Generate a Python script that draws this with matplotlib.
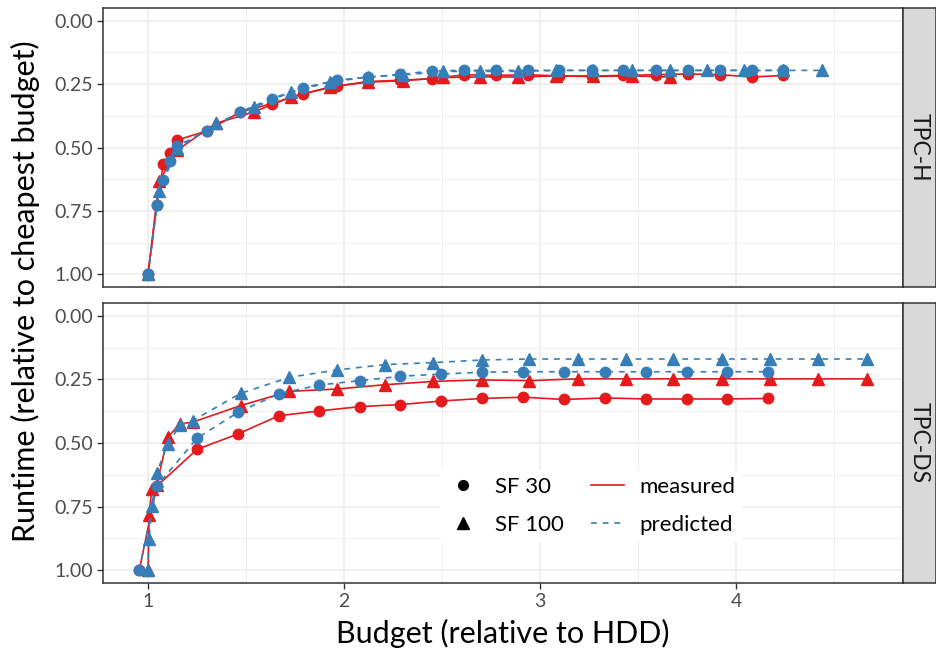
import matplotlib
matplotlib.use("Agg")
import matplotlib.pyplot as plt
from matplotlib.lines import Line2D

# ---------------- data ----------------
h30_x = [1.00, 1.044, 1.078, 1.112, 1.146, 1.303, 1.469, 1.631, 1.792, 1.963, 2.121, 2.286,
         2.447, 2.614, 2.776, 2.940, 3.099, 3.263, 3.425, 3.592, 3.753, 3.918, 4.080, 4.241]
h30_meas = [1.00, 0.725, 0.566, 0.520, 0.471, 0.434, 0.360, 0.327, 0.288, 0.258, 0.240, 0.235,
            0.229, 0.213, 0.216, 0.213, 0.218, 0.218, 0.216, 0.213, 0.210, 0.213, 0.222, 0.216]
h30_pred = [1.00, 0.725, 0.627, 0.552, 0.495, 0.434, 0.360, 0.307, 0.264, 0.235, 0.222, 0.212,
            0.198, 0.196, 0.196, 0.196, 0.196, 0.196, 0.196, 0.196, 0.196, 0.196, 0.196, 0.196]

h100_x = [1.00, 1.056, 1.150, 1.345, 1.539, 1.731, 1.927, 2.122, 2.300, 2.505, 2.694, 2.889,
          3.080, 3.272, 3.468, 3.663, 3.850, 4.043, 4.241, 4.437]
h100_meas = [1.00, 0.634, 0.510, 0.405, 0.360, 0.300, 0.262, 0.242, 0.237, 0.224, 0.222, 0.222,
             0.218, 0.220, 0.218, 0.222]
h100_pred = [1.00, 0.673, 0.503, 0.405, 0.342, 0.281, 0.242, 0.222, 0.214, 0.200, 0.200, 0.200,
             0.196, 0.196, 0.196, 0.196, 0.196, 0.196, 0.196, 0.196]

d30_x = [0.955, 1.044, 1.250, 1.460, 1.667, 1.874, 2.082, 2.287, 2.495, 2.704, 2.915, 3.124,
         3.332, 3.540, 3.748, 3.955, 4.163]
d30_meas = [1.00, 0.670, 0.525, 0.464, 0.393, 0.374, 0.357, 0.349, 0.335, 0.325, 0.320, 0.329,
            0.323, 0.327, 0.327, 0.327, 0.325]
d30_pred = [1.00, 0.670, 0.481, 0.379, 0.307, 0.272, 0.255, 0.238, 0.229, 0.222, 0.220, 0.220,
            0.220, 0.220, 0.220, 0.220, 0.220]

d100_x = [1.000, 1.005, 1.019, 1.044, 1.100, 1.163, 1.228, 1.472, 1.721, 1.963, 2.209, 2.456,
          2.702, 2.945, 3.192, 3.437, 3.680, 3.930, 4.173, 4.420, 4.666]
d100_meas = [1.00, 0.784, 0.680, 0.665, 0.477, 0.425, 0.418, 0.353, 0.297, 0.288, 0.271, 0.258,
             0.252, 0.255, 0.248, 0.248, 0.248, 0.248, 0.248, 0.248, 0.248]
d100_pred = [1.00, 0.876, 0.749, 0.618, 0.503, 0.431, 0.412, 0.305, 0.242, 0.213, 0.192, 0.184,
             0.174, 0.170, 0.170, 0.170, 0.170, 0.170, 0.170, 0.170, 0.170]

panels = ["TPC-H", "TPC-DS"]
x_ticks = [1, 2, 3, 4]
y_ticks = [0.00, 0.25, 0.50, 0.75, 1.00]
y_ticklabels = ["0.00", "0.25", "0.50", "0.75", "1.00"]
sf_labels = ["SF 30", "SF 100"]
type_labels = ["measured", "predicted"]

RED = "#E41A1C"
BLUE = "#377EB8"

plt.rcParams['font.family'] = ['Lato', 'DejaVu Sans']

W, H = 936, 653
fig = plt.figure(figsize=(W / 100, H / 100), dpi=100)

def fx(px):
    return px / W

def fy(py_top, py_bot):
    return (H - py_bot) / H, (py_bot - py_top) / H

data = {
    "TPC-H": [(h30_x, h30_meas, h30_pred), (h100_x, h100_meas, h100_pred)],
    "TPC-DS": [(d30_x, d30_meas, d30_pred), (d100_x, d100_meas, d100_pred)],
}
panel_pix = {"TPC-H": (8, 287), "TPC-DS": (303, 583)}

axes = []
for name in panels:
    top, bot = panel_pix[name]
    b, h = fy(top, bot)
    ax = fig.add_axes([fx(103), b, fx(800), h])
    axes.append(ax)
    ax.set_xlim(0.770, 4.852)
    ax.set_ylim(1.05, -0.05)
    ax.set_xticks(x_ticks)
    ax.set_yticks(y_ticks)
    ax.set_yticklabels(y_ticklabels)
    ax.set_xticks([1.5, 2.5, 3.5, 4.5], minor=True)
    ax.set_yticks([0.125, 0.375, 0.625, 0.875], minor=True)
    ax.grid(True, which="major", color="#EBEBEB", linewidth=1.1, zorder=0)
    ax.grid(True, which="minor", color="#EBEBEB", linewidth=0.6, zorder=0)
    ax.set_axisbelow(True)
    for s in ax.spines.values():
        s.set_color("#333333")
        s.set_linewidth(1.1)
    ax.tick_params(which="major", length=4, width=1.0, color="#333333",
                   labelsize=14, labelcolor="#4D4D4D", pad=3)
    ax.tick_params(which="minor", length=0)

    (x30, m30, p30), (x100, m100, p100) = data[name]
    ax.plot(x30[:len(m30)], m30, color=RED, lw=1.2, ls="-", marker="o", ms=7.5, zorder=3)
    ax.plot(x100[:len(m100)], m100, color=RED, lw=1.2, ls="-", marker="^", ms=8.5, zorder=3)
    ax.plot(x30[:len(p30)], p30, color=BLUE, lw=1.2, ls=(0, (3.5, 3.5)), marker="o", ms=7.5, zorder=4)
    ax.plot(x100[:len(p100)], p100, color=BLUE, lw=1.2, ls=(0, (3.5, 3.5)), marker="^", ms=8.5, zorder=4)

    # strip
    sax = fig.add_axes([fx(903), b, fx(33), h])
    sax.set_facecolor("#D9D9D9")
    sax.set_xticks([])
    sax.set_yticks([])
    for s in sax.spines.values():
        s.set_color("#333333")
        s.set_linewidth(1.1)
    sax.text(0.5, 0.5, name, rotation=-90, ha="center", va="center",
             fontsize=16.5, color="#1A1A1A", transform=sax.transAxes)

axes[0].tick_params(axis="x", which="major", labelbottom=False, length=0)

fig.text(fx(503), 1 - 633 / H, "Budget (relative to HDD)", ha="center", va="center",
         fontsize=22, color="black")
fig.text(fx(25), 1 - 291 / H, "Runtime (relative to cheapest budget)", ha="center",
         va="center", rotation=90, fontsize=22, color="black")

handles = [
    Line2D([], [], ls="none", marker="o", color="black", ms=7),
    Line2D([], [], ls="none", marker="^", color="black", ms=8),
    Line2D([], [], color=RED, lw=1.2, ls="-"),
    Line2D([], [], color=BLUE, lw=1.2, ls=(0, (3.5, 3.5))),
]
labels = sf_labels + type_labels
leg = axes[1].legend(handles, labels, ncol=2, loc="center",
                     bbox_to_anchor=((591 - 103) / 800, 1 - (506 - 303) / 280),
                     frameon=True, facecolor="white", edgecolor="none", framealpha=1,
                     fontsize=16, handlelength=1.5, handletextpad=0.7,
                     columnspacing=1.2, labelspacing=0.8, borderpad=0.3)
leg.get_frame().set_boxstyle("square", pad=0)

fig.savefig("out.png", dpi=100)
